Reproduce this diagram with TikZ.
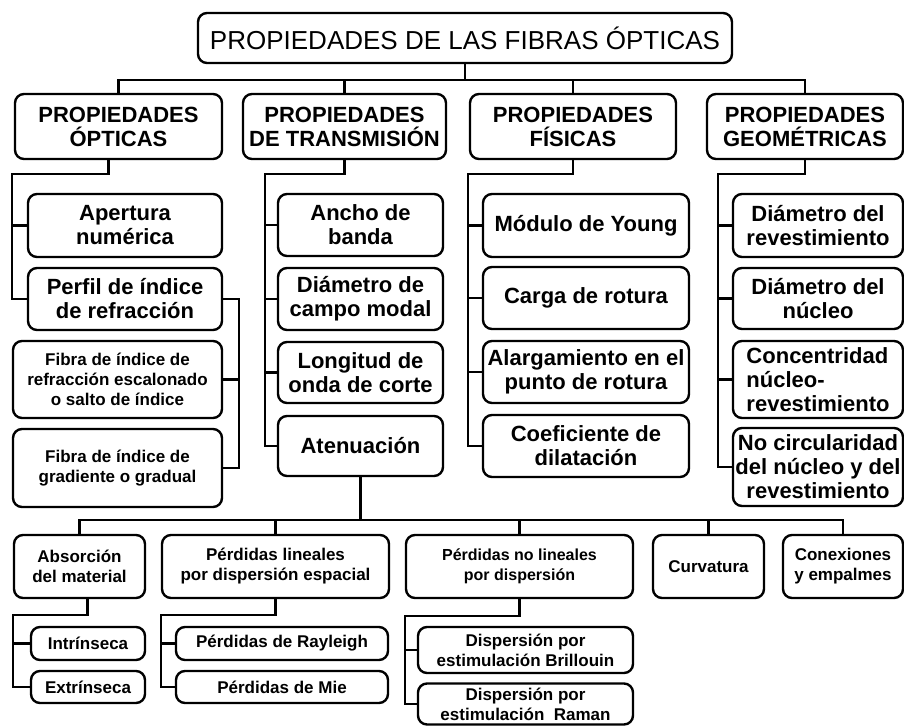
\documentclass[tikz,border=0pt]{standalone}
\usepackage{fontspec}
\setmainfont{Liberation Sans}
\usetikzlibrary{calc}

\begin{document}
\begin{tikzpicture}[x=1pt,y=-1pt,line width=2.4pt]
        \tikzstyle{caja}=[draw, rounded corners=9pt, inner sep=0pt, align=center]
        \tikzstyle{titulo}=[caja, font=\fontsize{26}{30}\selectfont]
        \tikzstyle{cabecera}=[caja, font=\fontsize{22}{24}\selectfont\bfseries, minimum height=65pt]
        \tikzstyle{propiedad}=[caja, font=\fontsize{22}{24}\selectfont\bfseries]
        \tikzstyle{perdida}=[caja, font=\fontsize{17}{20}\selectfont\bfseries]
        \useasboundingbox (0,0) rectangle (904,726);
        % nivel superior
        \node[titulo, minimum width=534pt, minimum height=50pt] (fibras) at (465,38) {PROPIEDADES DE LAS FIBRAS ÓPTICAS};
        \node[cabecera, minimum width=207pt] (optica) at (118.5,126.5) {PROPIEDADES\\ ÓPTICAS};
        \node[cabecera, minimum width=203pt] (transm) at (344.5,126.5) {PROPIEDADES\\ DE TRANSMISIÓN};
        \node[cabecera, minimum width=206pt] (fisica) at (573,126.5) {PROPIEDADES\\ FÍSICAS};
        \node[cabecera, minimum width=196pt] (geomet) at (805,126.5) {PROPIEDADES\\ GEOMÉTRICAS};
        \coordinate (bus) at (0,80);
        \draw (fibras.south) -- (fibras.south |- bus);
        \draw (optica.north) -- (optica.north |- bus) -- (geomet.north |- bus) -- (geomet.north);
        \draw (transm.north) -- (transm.north |- bus);
        \draw (fisica.north) -- (fisica.north |- bus);
        % opticas
        \node[propiedad, minimum width=194pt, minimum height=63pt] (apertura) at (125,225.5) {Apertura\\ numérica};
        \node[propiedad, minimum width=194pt, minimum height=62pt] (perfil) at (125,299) {Perfil de índice\\ de refracción};
        \node[perdida, minimum width=209pt, minimum height=77pt] (escalon) at (117.5,379.5) {Fibra de índice de\\ refracción escalonado\\ o salto de índice};
        \node[perdida, minimum width=209pt, minimum height=78pt] (gradual) at (117.5,468) {Fibra de índice de\\ gradiente o gradual};
        \draw ([xshift=-10pt]optica.south) -- ++(0,14) -| ([xshift=-15pt]perfil.west) -- (perfil.west);
        \draw (apertura.west) -- ++(-15,0);
        \draw (perfil.east) -- ++(16,0) |- (gradual.east);
        \draw (escalon.east) -- ++(16,0);
        % transmision
        \node[propiedad, minimum width=165pt, minimum height=62pt] (ancho) at (360.5,225) {Ancho de\\ banda};
        \node[propiedad, minimum width=165pt, minimum height=62pt] (campo) at (360.5,299) {Diámetro de\\ campo modal};
        \node[propiedad, minimum width=165pt, minimum height=61pt] (corte) at (360.5,372.5) {Longitud de\\ onda de corte};
        \node[propiedad, minimum width=165pt, minimum height=60pt] (atenua) at (360.5,446) {Atenuación};
        \draw (transm.south) -- ++(0,14) -| ([xshift=-12pt]atenua.west) -- (atenua.west);
        \draw (ancho.west) -- ++(-12,0);
        \draw (campo.west) -- ++(-12,0);
        \draw (corte.west) -- ++(-12,0);
        % fisicas
        \node[propiedad, minimum width=206pt, minimum height=63pt] (young) at (586,225.5) {Módulo de Young};
        \node[propiedad, minimum width=206pt, minimum height=62pt] (carga) at (586,298) {Carga de rotura};
        \node[propiedad, minimum width=206pt, minimum height=62pt] (alarga) at (586,372) {Alargamiento en el\\ punto de rotura};
        \node[propiedad, minimum width=206pt, minimum height=62pt] (dilata) at (586,446) {Coeficiente de\\ dilatación};
        \draw (fisica.south) -- ++(0,14) -| ([xshift=-14pt]dilata.west) -- (dilata.west);
        \draw (young.west) -- ++(-14,0);
        \draw (carga.west) -- ++(-14,0);
        \draw (alarga.west) -- ++(-14,0);
        % geometricas
        \node[propiedad, minimum width=170pt, minimum height=63pt] (revest) at (818,225.5) {Diámetro del\\ revestimiento};
        \node[propiedad, minimum width=170pt, minimum height=61pt] (nucleo) at (818,298.5) {Diámetro del\\ núcleo};
        \node[propiedad, minimum width=170pt, minimum height=77pt, align=left] (concen) at (818,379.5) {Concentridad\\ núcleo-\\ revestimiento};
        \node[propiedad, minimum width=170pt, minimum height=78pt] (circul) at (818,467) {No circularidad\\ del núcleo y del\\ revestimiento};
        \draw (geomet.south) -- ++(0,14) -| ([xshift=-14pt]circul.west) -- (circul.west);
        \draw (revest.west) -- ++(-14,0);
        \draw (nucleo.west) -- ++(-14,0);
        \draw (concen.west) -- ++(-14,0);
        % atenuacion
        \node[perdida, minimum width=131pt, minimum height=63pt] (absorc) at (79.5,566.5) {Absorción\\ del material};
        \node[perdida, minimum width=227pt, minimum height=63pt] (lineal) at (275.5,566.5) {Pérdidas lineales\\ por dispersión espacial};
        \node[perdida, minimum width=227pt, minimum height=63pt, font=\fontsize{16}{20}\selectfont\bfseries] (nolineal) at (519.5,566.5) {Pérdidas no lineales\\ por dispersión};
        \node[perdida, minimum width=111pt, minimum height=63pt] (curva) at (708.5,566.5) {Curvatura};
        \node[perdida, minimum width=120pt, minimum height=63pt] (empalme) at (843,566.5) {Conexiones\\ y empalmes};
        \coordinate (bus2) at (0,520);
        \draw (atenua.south) -- (atenua.south |- bus2);
        \draw (absorc.north) -- (absorc.north |- bus2) -- (empalme.north |- bus2) -- (empalme.north);
        \draw (lineal.north) -- (lineal.north |- bus2);
        \draw (nolineal.north) -- (nolineal.north |- bus2);
        \draw (curva.north) -- (curva.north |- bus2);
        % tipos de perdidas
        \node[perdida, minimum width=114pt, minimum height=33pt] (intrin) at (88,643.5) {Intrínseca};
        \node[perdida, minimum width=114pt, minimum height=32pt] (extrin) at (88,687) {Extrínseca};
        \draw ([xshift=8pt]absorc.south) -- ++(0,16) -| ([xshift=-17pt]extrin.west) -- (extrin.west);
        \draw (intrin.west) -- ++(-17,0);
        \node[perdida, minimum width=212pt, minimum height=33pt] (rayleigh) at (282,643.5) {Pérdidas de Rayleigh};
        \node[perdida, minimum width=212pt, minimum height=32pt] (mie) at (282,687) {Pérdidas de Mie};
        \draw (lineal.south) -- ++(0,16) -| ([xshift=-14pt]mie.west) -- (mie.west);
        \draw (rayleigh.west) -- ++(-14,0);
        \node[perdida, minimum width=215pt, minimum height=46pt] (brillo) at (525.5,650) {Dispersión por\\ estimulación Brillouin};
        \node[perdida, minimum width=215pt, minimum height=41pt] (raman) at (525.5,704) {Dispersión por\\ estimulación\ \ Raman};
        \draw (nolineal.south) -- ++(0,17) -| ([xshift=-12pt]raman.west) -- (raman.west);
        \draw (brillo.west) -- ++(-12,0);
\end{tikzpicture}
\end{document}
